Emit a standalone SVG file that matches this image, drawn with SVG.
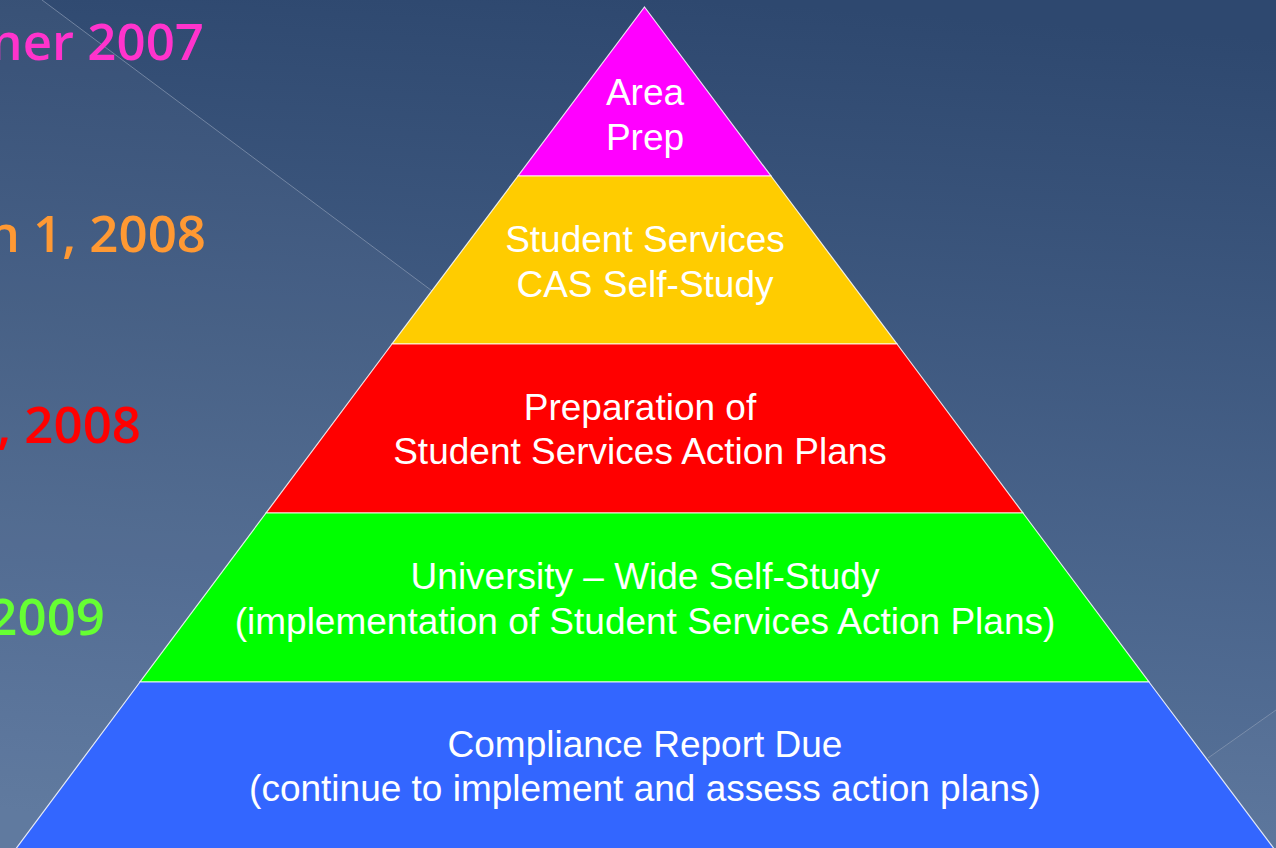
<svg xmlns="http://www.w3.org/2000/svg" width="1276" height="848" viewBox="0 0 1276 848">
<defs>
<linearGradient id="bg" x1="0.55" y1="0" x2="0.45" y2="1">
<stop offset="0" stop-color="#2e486f"/>
<stop offset="1" stop-color="#5a759c"/>
</linearGradient>
<style>
.date{font-family:"Open Sans","Liberation Sans",Arial,sans-serif;font-size:51px;font-weight:600;text-anchor:end}
.lbl{font-family:"Liberation Sans",Arial,sans-serif;font-size:37px;fill:#ffffff;text-anchor:middle}
.layer{stroke:#ffffff;stroke-width:1.2;stroke-opacity:0.85}
.deco{stroke:#8a9ab3;stroke-width:1;fill:none;opacity:0.7}
</style>
</defs>
<rect width="1276" height="848" fill="url(#bg)"/>
<polygon points="0,0 42,0 1276,920 0,920" fill="#ffffff" fill-opacity="0.04"/>
<polygon points="1208,758 1276,710 1276,848 1100,848" fill="#ffffff" fill-opacity="0.03"/>
<g id="decor">
<line class="deco" x1="42" y1="0" x2="640" y2="446"/>
<line class="deco" x1="1208" y1="758" x2="1276" y2="710"/>
</g>
<g id="dates">
<text class="date" x="204" y="60" fill="#ff33cc">ner 2007</text>
<text class="date" x="206" y="252" fill="#ff9933">n 1, 2008</text>
<text class="date" x="141" y="443" fill="#ff0000">, 2008</text>
<text class="date" x="105" y="635" fill="#66ff33">2009</text>
</g>
<g id="layer1">
<polygon class="layer" points="644.5,7 771,176 518,176" fill="#ff00ff"/>
<text class="lbl" x="645" y="105">Area</text>
<text class="lbl" x="645" y="150">Prep</text>
</g>
<g id="layer2">
<polygon class="layer" points="518,176 771,176 897,344 392,344" fill="#ffcc00"/>
<text class="lbl" x="645" y="252">Student Services</text>
<text class="lbl" x="645" y="297">CAS Self-Study</text>
</g>
<g id="layer3">
<polygon class="layer" points="392,344 897,344 1023,513 266,513" fill="#ff0000"/>
<text class="lbl" x="640" y="420">Preparation of</text>
<text class="lbl" x="640" y="464">Student Services Action Plans</text>
</g>
<g id="layer4">
<polygon class="layer" points="266,513 1023,513 1149,682 140,682" fill="#00ff00"/>
<text class="lbl" x="645" y="589">University – Wide Self-Study</text>
<text class="lbl" x="645" y="634">(implementation of Student Services Action Plans)</text>
</g>
<g id="layer5">
<polygon class="layer" points="140,682 1149,682 1275,850 15,850" fill="#3366ff"/>
<text class="lbl" x="645" y="757">Compliance Report Due</text>
<text class="lbl" x="645" y="801">(continue to implement and assess action plans)</text>
</g>
</svg>
